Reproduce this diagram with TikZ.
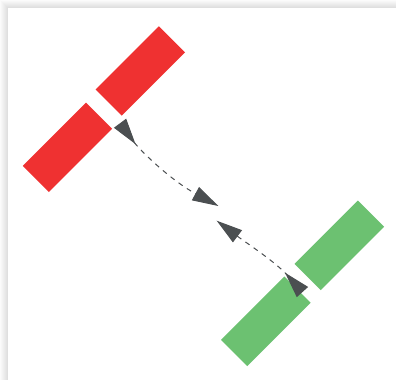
\documentclass[tikz,border=0pt]{standalone}
\usetikzlibrary{arrows.meta}
\definecolor{wingred}{HTML}{EF3131}
\definecolor{winggreen}{HTML}{6CC171}
\definecolor{linkgray}{HTML}{4B4F51}
\begin{document}
\begin{tikzpicture}[x=1pt,y=1pt,yscale=-1,xscale=1,
  wing/.style={draw=none, rotate=45, minimum width=89.5pt, minimum height=37pt, inner sep=0pt, outer sep=0pt},
  link/.style={draw=linkgray, line width=1, dash pattern={on 5 off 5}}]
\useasboundingbox (0,0) rectangle (396,380);
% panel with its shadow
\foreach \i in {1,...,8} \fill [black, opacity=0.014] (8-\i,8-\i) rectangle (396,380);
\fill [white] (8,8) rectangle (396,380);
% the two pairs
\node [wing, fill=wingred] (redA) at (140.3,71) {};
\node [wing, fill=wingred] (redB) at (67.5,147.3) {};
\node [wing, fill=winggreen] (greenA) at (339.3,245.3) {};
\node [wing, fill=winggreen] (greenB) at (265.8,321.3) {};
\coordinate (redend) at (218.3,206);
\coordinate (greenend) at (216.7,220.7);
% links
\draw [link, {Triangle[length=26pt,width=15pt,reversed]}-{Triangle[length=26pt,width=15pt]}]
  ([shift={(-1.7,7.5)}]redA.south west) .. controls +(20,27) and +(-48,-26) .. (redend);
\draw [link, {Triangle[length=26pt,width=15pt]}-{Triangle[length=26pt,width=15pt,reversed]}]
  (greenend) .. controls +(28,21) and +(-27,-30) .. ([shift={(5,2.4)}]greenB.east);
\end{tikzpicture}
\end{document}
